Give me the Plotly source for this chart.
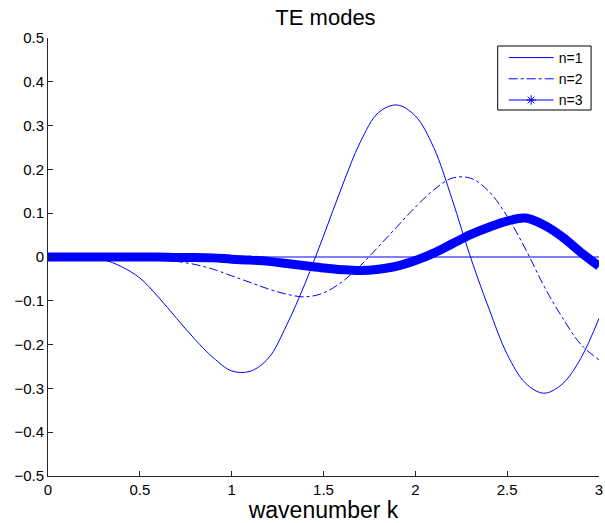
import plotly.graph_objects as go

k = [round(0.1 * i, 1) for i in range(31)]

te1 = [0.0, 0.0, -0.001, -0.006, -0.022, -0.048, -0.091, -0.140, -0.188, -0.230,
       -0.260, -0.261, -0.231, -0.155, -0.060, 0.048, 0.160, 0.262, 0.330, 0.347,
       0.322, 0.250, 0.132, 0.0, -0.117, -0.222, -0.288, -0.311, -0.290, -0.232,
       -0.140]

te2 = [0.0, 0.0, 0.0, 0.0, -0.001, -0.003, -0.006, -0.010, -0.017, -0.028,
       -0.043, -0.058, -0.073, -0.085, -0.091, -0.082, -0.057, -0.020, 0.024, 0.069,
       0.114, 0.153, 0.180, 0.180, 0.150, 0.093, 0.018, -0.066, -0.138, -0.199,
       -0.235]

te3 = [0.0, 0.0, 0.0, 0.0, 0.0, 0.0, 0.0, -0.001, -0.001, -0.002,
       -0.005, -0.007, -0.010, -0.015, -0.020, -0.025, -0.029, -0.031, -0.028, -0.021,
       -0.008, 0.009, 0.030, 0.051, 0.068, 0.082, 0.089, 0.073, 0.046, 0.011,
       -0.021]

zero_line = [0.0] * len(k)

blue = "#0000ff"
font = "Liberation Sans, Arial, Helvetica, sans-serif"
axis_col = "#262626"

W, H = 605, 523

fig = go.Figure()
fig.add_trace(go.Scatter(x=k, y=te1, mode="lines", name="n=1",
                         line=dict(color=blue, width=1, shape="spline")))
fig.add_trace(go.Scatter(x=k, y=te2, mode="lines", name="n=2",
                         line=dict(color=blue, width=1, dash="dashdot", shape="spline")))
fig.add_trace(go.Scatter(x=k, y=zero_line, mode="lines", showlegend=False,
                         line=dict(color=blue, width=1)))
fig.add_trace(go.Scatter(x=k, y=te3, mode="lines", showlegend=False,
                         line=dict(color=blue, width=9, shape="spline")))
fig.add_trace(go.Scatter(x=[None], y=[None], mode="lines+markers", name="n=3",
                         line=dict(color=blue, width=1),
                         marker=dict(symbol="asterisk-open", size=8,
                                     line=dict(color=blue, width=1))))

# legend frame (white box with black border) drawn behind the legend entries
fig.add_shape(type="rect", xref="paper", yref="paper",
              x0=0.8162, x1=0.9856, y0=0.8356, y1=0.9817,
              line=dict(color="black", width=1), fillcolor="white", layer="above")

fig.update_layout(
    width=W, height=H,
    margin=dict(l=48, r=2, t=38, b=47),
    paper_bgcolor="white", plot_bgcolor="white",
    font=dict(family=font, size=15, color="black"),
    title=dict(text="TE modes", x=(48 + 277.5) / W, xanchor="center",
               y=1 - 17 / H, yanchor="middle", yref="container",
               font=dict(size=22, family=font, color="black")),
    legend=dict(x=0.827, y=0.9909, xanchor="left", yanchor="top",
                bgcolor="rgba(0,0,0,0)", borderwidth=0,
                font=dict(size=14, family=font), tracegroupgap=0,
                itemwidth=45),
    showlegend=True,
)
fig.update_xaxes(range=[0, 3], dtick=0.5, tick0=0, showgrid=False, zeroline=False,
                 showline=True, linecolor=axis_col, linewidth=1,
                 ticks="inside", ticklen=5, tickcolor=axis_col,
                 ticklabeloverflow="allow",
                 title=dict(text="wavenumber k", font=dict(size=23, family=font), standoff=2))
fig.update_yaxes(range=[-0.5, 0.5], dtick=0.1, tick0=0, showgrid=False, zeroline=False,
                 showline=True, linecolor=axis_col, linewidth=1,
                 ticks="inside", ticklen=5, tickcolor=axis_col)

fig.write_html("out.html", config={"displayModeBar": False},
               post_script="document.body.style.margin='0';")
